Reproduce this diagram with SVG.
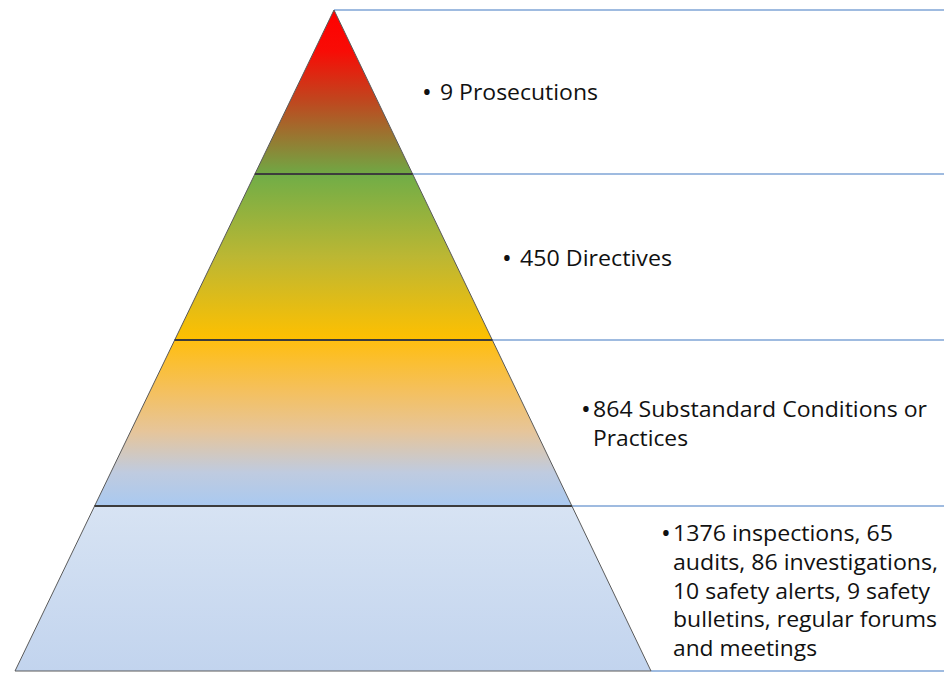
<svg xmlns="http://www.w3.org/2000/svg" width="944" height="673" viewBox="0 0 944 673">
  <style>
    .tier { stroke: #5a5a5a; stroke-width: 1; }
    .divider { stroke: #3c3c3c; stroke-width: 2; }
    .guide { stroke: #7fa5d6; stroke-width: 1.5; fill: none; }
    .label { font-family: "Open Sans", "Liberation Sans", sans-serif; font-size: 22.5px; fill: #111; }
    .bullet { font-family: "Open Sans", "Liberation Sans", sans-serif; font-size: 26px; fill: #111; }
  </style>
  <defs>
    <linearGradient id="g1" x1="0" y1="0" x2="0" y2="1">
      <stop offset="0" stop-color="#ff0000"/>
      <stop offset="0.25" stop-color="#f80c06"/>
      <stop offset="0.55" stop-color="#c0461e"/>
      <stop offset="1" stop-color="#70a844"/>
    </linearGradient>
    <linearGradient id="g2" x1="0" y1="0" x2="0" y2="1">
      <stop offset="0" stop-color="#70ad47"/>
      <stop offset="0.5" stop-color="#bcb733"/>
      <stop offset="1" stop-color="#ffc000"/>
    </linearGradient>
    <linearGradient id="g3" x1="0" y1="0" x2="0" y2="1">
      <stop offset="0" stop-color="#ffbe10"/>
      <stop offset="0.3" stop-color="#f5c05c"/>
      <stop offset="0.55" stop-color="#e6c59a"/>
      <stop offset="0.8" stop-color="#bfcbe0"/>
      <stop offset="1" stop-color="#a9c9f0"/>
    </linearGradient>
    <linearGradient id="g4" x1="0" y1="0" x2="0" y2="1">
      <stop offset="0" stop-color="#d7e3f3"/>
      <stop offset="1" stop-color="#c2d4ee"/>
    </linearGradient>
  </defs>

  <!-- guide lines running right from each tier boundary -->
  <g id="connectors">
    <line class="guide" x1="334" y1="10" x2="944" y2="10"/>
    <line class="guide" x1="412.6" y1="174" x2="944" y2="174"/>
    <line class="guide" x1="492.3" y1="340" x2="944" y2="340"/>
    <line class="guide" x1="571.9" y1="506" x2="944" y2="506"/>
    <line class="guide" x1="651" y1="671" x2="944" y2="671"/>
  </g>

  <g id="tier-prosecutions">
    <polygon class="tier" fill="url(#g1)" points="334,10 412.6,174 254.9,174"/>
    <text class="bullet" x="422" y="101">•</text>
    <text class="label" x="440" y="100" textLength="158" lengthAdjust="spacingAndGlyphs">9 Prosecutions</text>
  </g>

  <g id="tier-directives">
    <polygon class="tier" fill="url(#g2)" points="254.9,174 412.6,174 492.3,340 174.7,340"/>
    <text class="bullet" x="502" y="267">•</text>
    <text class="label" x="520" y="266" textLength="152" lengthAdjust="spacingAndGlyphs">450 Directives</text>
  </g>

  <g id="tier-substandard">
    <polygon class="tier" fill="url(#g3)" points="174.7,340 492.3,340 571.9,506 94.6,506"/>
    <text class="bullet" x="581" y="418">•</text>
    <text class="label" x="593" y="417" textLength="334" lengthAdjust="spacingAndGlyphs">864 Substandard Conditions or</text>
    <text class="label" x="593" y="446" textLength="95" lengthAdjust="spacingAndGlyphs">Practices</text>
  </g>

  <g id="tier-activities">
    <polygon class="tier" fill="url(#g4)" points="94.6,506 571.9,506 651,671 15,671"/>
    <text class="bullet" x="661" y="542">•</text>
    <text class="label" x="673" y="541" textLength="220" lengthAdjust="spacingAndGlyphs">1376 inspections, 65</text>
    <text class="label" x="673" y="570" textLength="265" lengthAdjust="spacingAndGlyphs">audits, 86 investigations,</text>
    <text class="label" x="673" y="598.5" textLength="257" lengthAdjust="spacingAndGlyphs">10 safety alerts, 9 safety</text>
    <text class="label" x="673" y="627" textLength="264" lengthAdjust="spacingAndGlyphs">bulletins, regular forums</text>
    <text class="label" x="673" y="655.5" textLength="144" lengthAdjust="spacingAndGlyphs">and meetings</text>
  </g>

  <!-- tier dividers -->
  <g id="dividers">
    <line class="divider" x1="254.9" y1="174" x2="412.6" y2="174"/>
    <line class="divider" x1="174.7" y1="340" x2="492.3" y2="340"/>
    <line class="divider" x1="94.6" y1="506" x2="571.9" y2="506"/>
  </g>
</svg>
